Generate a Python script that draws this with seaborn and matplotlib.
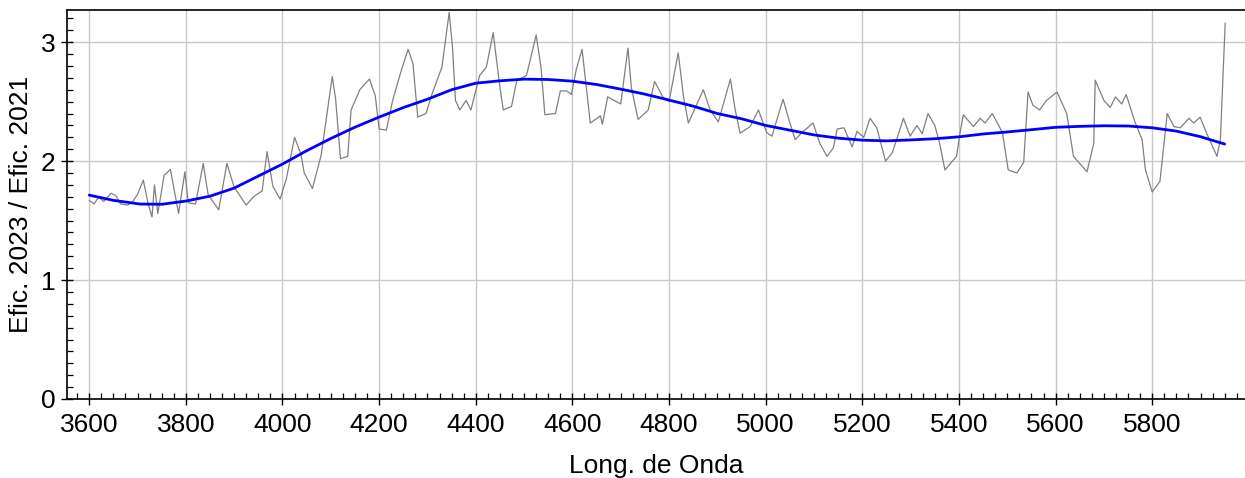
import numpy as np
import pandas as pd
import matplotlib.pyplot as plt
import seaborn as sns
from matplotlib.ticker import MultipleLocator

# ratio of efficiencies (gray noisy series)
wave_ratio = [3600, 3610, 3620, 3630, 3645, 3655, 3665, 3680, 3690, 3700,
              3712, 3722, 3730, 3735, 3742, 3755, 3768, 3785, 3798, 3805,
              3820, 3836, 3846, 3868, 3885, 3900, 3925, 3940, 3958, 3968,
              3980, 3995, 4008, 4025, 4038, 4045, 4062, 4080, 4103, 4110,
              4120, 4135, 4142, 4160, 4180, 4192, 4200, 4215, 4228, 4245,
              4260, 4270, 4280, 4297, 4310, 4330, 4345, 4352, 4358, 4367,
              4380, 4390, 4408, 4422, 4436, 4450, 4457, 4474, 4485, 4505,
              4525, 4535, 4543, 4565, 4575, 4588, 4598, 4608, 4620, 4637,
              4658, 4662, 4673, 4700, 4715, 4722, 4736, 4757, 4770, 4787,
              4800, 4819, 4830, 4840, 4871, 4885, 4902, 4927, 4937, 4947,
              4968, 4985, 5002, 5013, 5036, 5048, 5061, 5075, 5098, 5112,
              5127, 5140, 5148, 5162, 5179, 5189, 5203, 5216, 5230, 5248,
              5262, 5275, 5285, 5299, 5313, 5324, 5336, 5350, 5360, 5371,
              5395, 5402, 5409, 5430, 5444, 5454, 5469, 5490, 5502, 5520,
              5534, 5543, 5553, 5567, 5581, 5603, 5623, 5637, 5665, 5679,
              5682, 5700, 5713, 5724, 5737, 5746, 5765, 5779, 5786, 5800,
              5816, 5831, 5845, 5858, 5876, 5886, 5899, 5913, 5934, 5941,
              5951]
ratio = [1.67, 1.64, 1.70, 1.66, 1.73, 1.71, 1.64, 1.63, 1.66, 1.72,
         1.84, 1.64, 1.53, 1.80, 1.56, 1.88, 1.93, 1.56, 1.91, 1.65,
         1.64, 1.98, 1.72, 1.59, 1.98, 1.78, 1.63, 1.70, 1.75, 2.08,
         1.79, 1.68, 1.85, 2.20, 2.06, 1.90, 1.77, 2.05, 2.71, 2.52,
         2.02, 2.04, 2.43, 2.60, 2.69, 2.55, 2.27, 2.26, 2.51, 2.75,
         2.94, 2.82, 2.37, 2.40, 2.57, 2.79, 3.25, 2.95, 2.51, 2.43,
         2.51, 2.43, 2.72, 2.79, 3.08, 2.62, 2.43, 2.46, 2.68, 2.72,
         3.06, 2.79, 2.39, 2.40, 2.59, 2.59, 2.56, 2.77, 2.94, 2.32,
         2.38, 2.31, 2.54, 2.48, 2.95, 2.62, 2.35, 2.43, 2.67, 2.54,
         2.50, 2.91, 2.54, 2.32, 2.60, 2.43, 2.33, 2.69, 2.43, 2.235,
         2.29, 2.43, 2.24, 2.21, 2.52, 2.35, 2.18, 2.24, 2.32, 2.15,
         2.04, 2.11, 2.27, 2.28, 2.12, 2.25, 2.20, 2.36, 2.28, 2.00,
         2.07, 2.23, 2.36, 2.21, 2.30, 2.23, 2.40, 2.30, 2.15, 1.925,
         2.04, 2.23, 2.39, 2.29, 2.36, 2.32, 2.40, 2.24, 1.925, 1.90,
         1.99, 2.58, 2.47, 2.43, 2.51, 2.58, 2.40, 2.04, 1.91, 2.15,
         2.68, 2.51, 2.45, 2.54, 2.48, 2.56, 2.32, 2.18, 1.925, 1.74,
         1.83, 2.40, 2.29, 2.28, 2.36, 2.32, 2.37, 2.23, 2.04, 2.18,
         3.16]

# smooth fit (blue)
wave_fit = [3600, 3650, 3705, 3750, 3800, 3850, 3900, 3947, 4000, 4050,
            4100, 4150, 4200, 4250, 4300, 4350, 4400, 4450, 4500, 4550,
            4600, 4650, 4700, 4750, 4800, 4850, 4900, 4950, 5000, 5050,
            5100, 5150, 5200, 5250, 5300, 5350, 5400, 5450, 5500, 5550,
            5600, 5650, 5700, 5750, 5800, 5850, 5900, 5950]
fit = [1.714, 1.67, 1.639, 1.637, 1.664, 1.705, 1.773, 1.868, 1.975, 2.087,
       2.19, 2.285, 2.37, 2.45, 2.52, 2.60, 2.655, 2.675, 2.689, 2.686,
       2.672, 2.644, 2.605, 2.563, 2.513, 2.462, 2.40, 2.356, 2.30, 2.26,
       2.22, 2.193, 2.176, 2.17, 2.178, 2.188, 2.204, 2.228, 2.245, 2.264,
       2.284, 2.292, 2.297, 2.295, 2.28, 2.252, 2.205, 2.143]

sns.set_theme(style="ticks")
plt.rcParams['font.family'] = ['Liberation Sans', 'DejaVu Sans']
plt.rcParams['text.color'] = 'black'
plt.rcParams['axes.labelcolor'] = 'black'

fig = plt.figure(figsize=(12.45, 4.78), dpi=100)
ax = fig.add_axes([0.0538, 0.1653, 0.9462, 0.8137])

df_ratio = pd.DataFrame({"wave": wave_ratio, "ratio": ratio})
df_fit = pd.DataFrame({"wave": wave_fit, "fit": fit})

sns.lineplot(data=df_ratio, x="wave", y="ratio", ax=ax, color="#808080", linewidth=0.9, estimator=None)
sns.lineplot(data=df_fit, x="wave", y="fit", ax=ax, color="#0000ff", linewidth=2.0, estimator=None)

ax.set_xlim(3554, 5992)
ax.set_ylim(0, 3.27)
ax.xaxis.set_major_locator(MultipleLocator(200))
ax.xaxis.set_minor_locator(MultipleLocator(25))
ax.yaxis.set_major_locator(MultipleLocator(1))
ax.yaxis.set_minor_locator(MultipleLocator(0.1))
ax.set_xticks(np.arange(3600, 5801, 200))

ax.grid(True, which="major", color="#c8c8c8", linewidth=1.0)
ax.set_axisbelow(True)
ax.tick_params(which="major", direction="inout", length=8, width=1.0, labelsize=19, colors="black")
ax.tick_params(axis="x", which="major", pad=6)
ax.tick_params(axis="y", which="major", pad=4)
ax.tick_params(which="minor", direction="in", length=4, width=0.9, colors="black")
ax.tick_params(top=False, right=False, which="both")

for s in ["left", "bottom", "top"]:
    ax.spines[s].set_color("black")
    ax.spines[s].set_linewidth(1.2)
ax.spines["right"].set_visible(False)

ax.set_xlabel("Long. de Onda", fontsize=19, labelpad=12)
ax.set_ylabel("Efic. 2023 / Efic. 2021", fontsize=19, labelpad=6)

fig.savefig("out.png", dpi=100)
